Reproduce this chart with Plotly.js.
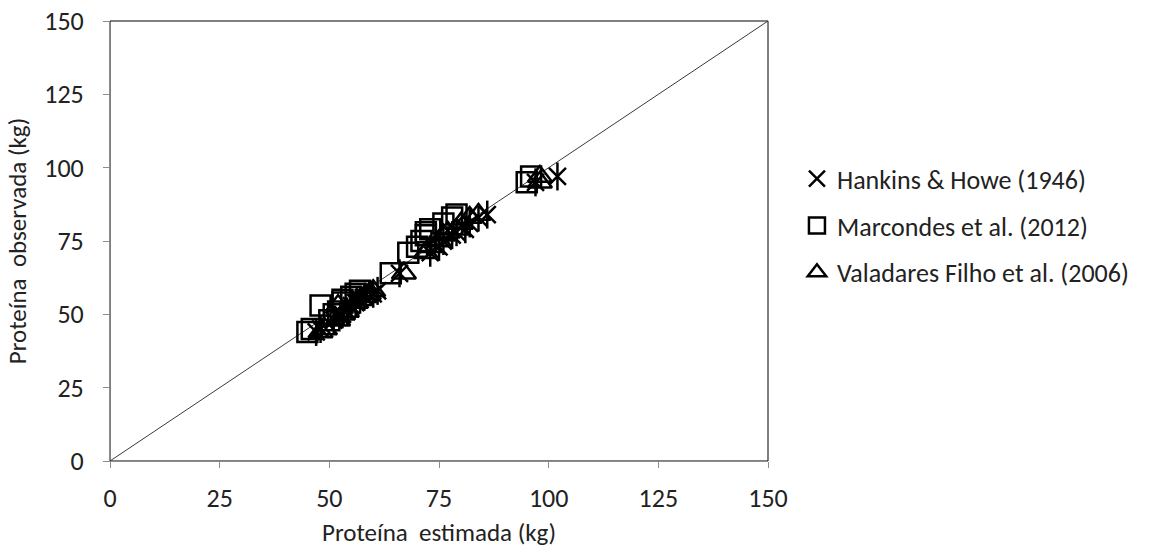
<!DOCTYPE html>
<html>
<head>
<meta charset="utf-8">
<script src="https://cdn.plot.ly/plotly-3.0.1.min.js"></script>
<style>html,body{margin:0;padding:0;background:#fff;}#chart{width:1156px;height:548px;}</style>
</head>
<body>
<div id="chart"></div>
<script>
// Observed protein (kg), shared by the three estimation methods
const observed = [44, 45, 48, 50, 51, 53, 54, 55, 56, 57, 58, 64, 71, 73, 75, 77, 78, 79, 81, 83, 84, 95, 97];
// Estimated protein (kg) for each method
const hankins   = [47, 48, 51, 53, 54, 55, 56, 57, 58, 60, 61, 66, 73, 75, 76, 78, 79, 81, 82, 84, 86, 97, 102];
const marcondes = [45, 46, 50, 51, 52, 48, 53, 53, 55, 56, 57, 64, 68, 70, 71, 72, 72, 73, 76, 78, 79, 95, 96];
const valadares = [48, 49, 52, 53, 54, 52, 56, 57, 58, 59, 60, 67, 72, 73, 75, 76, 77, 79, 80, 82, 84, 98, 98];
// 1:1 reference line
const lineX = [0, 150];
const lineY = [0, 150];
const tickVals = [0, 25, 50, 75, 100, 125, 150];
const names = ["Hankins & Howe (1946)", "Marcondes et al. (2012)", "Valadares Filho et al. (2006)"];

const FONT = "Carlito, Lato, 'Open Sans', sans-serif";
const traces = [
  {x: lineX, y: lineY, mode: "lines", line: {color: "#3a3a3a", width: 1}, showlegend: false, hoverinfo: "skip"},
  {x: hankins, y: observed, mode: "markers", name: names[0], legendgroup: "a",
   marker: {symbol: "x-thin-open", size: 17, color: "#000", line: {color: "#000", width: 2.5}}},
  {x: hankins, y: observed, mode: "markers", showlegend: false, legendgroup: "a",
   marker: {symbol: "line-ns-open", size: 20, color: "#000", line: {color: "#000", width: 2.5}}},
  {x: marcondes, y: observed, mode: "markers", name: names[1], legendgroup: "b",
   marker: {symbol: "square-open", size: 20, color: "#000", line: {color: "#000", width: 2.5}}},
  {x: valadares, y: observed, mode: "markers", name: names[2], legendgroup: "c",
   marker: {symbol: "triangle-up-open", size: 21, color: "#000", line: {color: "#000", width: 2.5}}}
];

const axisCommon = {
  range: [0, 150], tickvals: tickVals, ticks: "outside", ticklen: 6, tickcolor: "#8c8c8c",
  showline: true, linecolor: "#8c8c8c", linewidth: 1, showgrid: false, zeroline: false,
  tickfont: {family: FONT, size: 26, color: "#222"}, fixedrange: true
};

const layout = {
  width: 1156, height: 548,
  margin: {l: 110, r: 388, t: 21, b: 87},
  paper_bgcolor: "#fff", plot_bgcolor: "#fff",
  font: {family: FONT, color: "#222"},
  xaxis: Object.assign({}, axisCommon, {
    ticklabelstandoff: 8,
    title: {text: "Proteína\u00a0 estimada (kg)", font: {family: FONT, size: 25, color: "#222"}, standoff: 11}
  }),
  yaxis: Object.assign({}, axisCommon, {
    ticklabelstandoff: 14,
    title: {text: "Proteína\u00a0 observada (kg)", font: {family: FONT, size: 25, color: "#222"}, standoff: 10}
  }),
  shapes: [{type: "rect", xref: "paper", yref: "paper", x0: 0, y0: 0, x1: 1, y1: 1,
            line: {color: "#000", width: 1}, layer: "below"}],
  legend: {x: 1.044, y: 0.695, xanchor: "left", yanchor: "top", traceorder: "grouped",
           tracegroupgap: 10, itemwidth: 30,
           font: {family: FONT, size: 26, color: "#222"}, bgcolor: "rgba(0,0,0,0)"},
  showlegend: true
};

Plotly.newPlot("chart", traces, layout, {staticPlot: true, displayModeBar: false});
</script>
</body>
</html>
